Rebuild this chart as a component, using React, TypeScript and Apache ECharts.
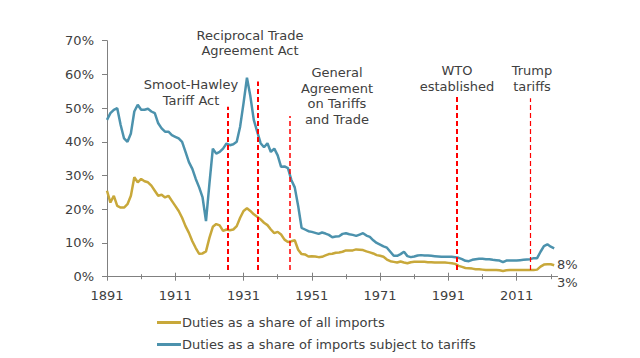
import React, { useEffect, useRef } from "react";
import * as echarts from "echarts";

// ---- data ----
const START_YEAR = 1891;

// Duties as a share of all imports (%), 1891..2022
const allImports = [
  25.5, 22, 24, 21, 20.5, 20.5, 21.5, 24, 29.5, 28,
  29, 28.3, 28, 27, 25.5, 24, 24.3, 23.5, 24, 22.5,
  21, 19.5, 17.5, 15, 13, 10.5, 8.5, 6.8, 6.9, 7.5,
  11.5, 14.8, 15.6, 15.2, 13.6, 14, 13.8, 14, 15, 17.5,
  19.5, 20.3, 19.5, 18.5, 17.8, 17, 16, 15.3, 14, 12.9,
  13.3, 12.5, 11, 10.3, 10.5, 10.8, 8, 6.7, 6.6, 6,
  6.1, 6, 5.8, 5.9, 6.3, 6.7, 6.8, 7.1, 7.2, 7.4,
  7.8, 7.8, 7.8, 8.1, 8, 7.9, 7.5, 7.2, 6.9, 6.4,
  6.2, 5.9, 5.1, 4.6, 4.4, 4.2, 4.5, 4.2, 4, 4.3,
  4.4, 4.4, 4.4, 4.4, 4.3, 4.3, 4.2, 4.2, 4.2, 4.2,
  4.1, 4, 3.8, 3.2, 2.9, 2.6, 2.5, 2.4, 2.2, 2.2,
  2.1, 2, 2, 2, 2, 1.9, 1.7, 1.9, 2, 2,
  2, 2, 2, 2, 2, 2, 2.1, 3, 3.6, 3.7,
  3.7, 3.4,
];

// Duties as a share of imports subject to tariffs (%), 1891..2022
const tariffedImports = [
  46.5, 48.5, 49.5, 50, 45, 41, 40, 42.5, 49, 51,
  49.5, 49.5, 49.8, 49, 48.5, 45.5, 44, 43, 43, 42,
  41.5, 41, 40, 37, 34, 32, 29, 26.5, 23.5, 16.5,
  27.5, 38, 36.5, 37, 38, 39.5, 39, 39.3, 40, 44.5,
  51.5, 59, 53.5, 46.5, 43, 39.6, 38.4, 39.6, 37, 38,
  36, 32.6, 32.7, 32.2, 28.7, 26.5, 21, 14.5, 14, 13.5,
  13.3, 13, 12.7, 13.1, 12.8, 12.4, 11.7, 11.9, 12, 12.7,
  12.9, 12.6, 12.4, 12.1, 12.5, 12.9, 12.2, 11.8, 10.8, 10,
  9.5, 9, 8.6, 7.4, 6.2, 6.2, 6.7, 7.4, 6.1, 5.8,
  6, 6.3, 6.4, 6.3, 6.3, 6.2, 6.1, 6, 5.9, 5.9,
  5.9, 5.9, 5.8, 5.6, 5.2, 4.7, 4.6, 5, 5.2, 5.3,
  5.3, 5.2, 5.2, 5, 4.9, 4.8, 4.3, 4.8, 4.8, 4.8,
  4.8, 4.9, 5, 5.1, 5.2, 5.5, 5.5, 7.4, 9.1, 9.6,
  8.9, 8.4,
];

const seriesNames = [
  "Duties as a share of all imports",
  "Duties as a share of imports subject to tariffs",
];

const yTicks = [0, 10, 20, 30, 40, 50, 60, 70];
const xLabelYears = [1891, 1911, 1931, 1951, 1971, 1991, 2011];
const xMinorYears = [1901, 1921, 1941, 1961, 1981, 2001, 2021];

// policy events: year of the dashed line and the value where it stops
const eventNames = [
  "Smoot-Hawley\nTariff Act",
  "Reciprocal Trade\nAgreement Act",
  "General\nAgreement\non Tariffs\nand Trade",
  "WTO\nestablished",
  "Trump\ntariffs",
];
const eventYears = [1926.3, 1935.1, 1944.6, 1993.6, 2015.1];
const eventTops = [50.4, 57.9, 47.7, 53.9, 52.9];
const eventBottom = 2;

const endLabels = ["8%", "3%"];

// ---- layout / style ----
const GOLD = "#C8A83A";
const BLUE = "#4C92AD";
const AXIS = "#808080";
const TEXT = "#404040";
const FONT = "DejaVu Sans";

const GRID = { left: 107, right: 82.4, top: 40.7, bottom: 81.3 };
const eventLineWidths = [2, 2, 1.5, 2, 1.2];
const eventLabelPos = [
  { x: 191, y: 77 },
  { x: 250, y: 27.5 },
  { x: 337, y: 65 },
  { x: 457, y: 63 },
  { x: 532, y: 63 },
];
const endLabelPos = [
  { x: 557, y: 264.5 },
  { x: 557, y: 282.5 },
];

export default function App() {
  const ref = useRef<HTMLDivElement>(null);

  useEffect(() => {
    if (!ref.current) return;
    const chart = echarts.init(ref.current, undefined, { renderer: "svg" });

    const xMin = START_YEAR;
    const xMax = 2023;
    const grids = [0, 1, 2, 3].map(() => ({ ...GRID, containLabel: false }));

    const baseX = {
      type: "value" as const,
      min: xMin,
      max: xMax,
      splitLine: { show: false },
      axisLabel: { show: false },
      axisLine: { show: false },
    };

    const xAxes = [
      {
        ...baseX,
        gridIndex: 0,
        axisLine: { show: true, lineStyle: { color: AXIS, width: 1 } },
        axisTick: {
          show: true,
          customValues: xLabelYears,
          length: 4,
          lineStyle: { color: AXIS },
        },
        axisLabel: {
          show: true,
          customValues: xLabelYears,
          formatter: (v: number) => String(v),
          margin: 12,
          fontSize: 13,
          fontFamily: FONT,
          color: TEXT,
        },
      },
      {
        ...baseX,
        gridIndex: 1,
        axisTick: {
          show: true,
          inside: true,
          customValues: xLabelYears,
          length: 4,
          lineStyle: { color: AXIS },
        },
      },
      {
        ...baseX,
        gridIndex: 2,
        axisTick: {
          show: true,
          customValues: xMinorYears,
          length: 2.5,
          lineStyle: { color: AXIS },
        },
      },
      {
        ...baseX,
        gridIndex: 3,
        axisTick: {
          show: true,
          inside: true,
          customValues: xMinorYears,
          length: 2.5,
          lineStyle: { color: AXIS },
        },
      },
    ];

    const yAxes = [0, 1, 2, 3].map((g) => ({
      type: "value" as const,
      gridIndex: g,
      min: yTicks[0],
      max: yTicks[yTicks.length - 1],
      interval: 10,
      show: g === 0,
      splitLine: { show: false },
      axisLine: { show: true, lineStyle: { color: AXIS, width: 1 } },
      axisTick: { show: true, length: 5, lineStyle: { color: AXIS } },
      axisLabel: {
        formatter: "{value}%",
        margin: 13,
        fontSize: 13,
        fontFamily: FONT,
        color: TEXT,
      },
    }));

    const toPairs = (arr: number[]) => arr.map((v, i) => [START_YEAR + i, v]);

    const markLineData = eventYears.map((yr, i) => [
      {
        coord: [yr, eventBottom],
        lineStyle: { width: eventLineWidths[i] },
      },
      { coord: [yr, eventTops[i]] },
    ]);

    const option = {
      animation: false,
      grid: grids,
      xAxis: xAxes,
      yAxis: yAxes,
      legend: {
        orient: "vertical",
        left: 152,
        top: 311,
        itemGap: 9,
        itemWidth: 24,
        itemHeight: 3,
        icon: "rect",
        textStyle: { fontSize: 13, fontFamily: FONT, color: TEXT, padding: [0, 0, 0, -4] },
        data: seriesNames,
      },
      series: [
        {
          name: seriesNames[0],
          type: "line",
          xAxisIndex: 0,
          yAxisIndex: 0,
          data: toPairs(allImports),
          symbol: "none",
          lineStyle: { color: GOLD, width: 2.5 },
          itemStyle: { color: GOLD },
          z: 2,
        },
        {
          name: seriesNames[1],
          type: "line",
          xAxisIndex: 0,
          yAxisIndex: 0,
          data: toPairs(tariffedImports),
          symbol: "none",
          lineStyle: { color: BLUE, width: 2.5 },
          itemStyle: { color: BLUE },
          z: 2,
        },
        {
          name: "events",
          type: "line",
          xAxisIndex: 0,
          yAxisIndex: 0,
          data: [],
          z: 5,
          markLine: {
            silent: true,
            symbol: ["none", "none"],
            label: { show: false },
            lineStyle: { color: "#FF0000", type: [5, 3], width: 2 },
            data: markLineData,
          },
        },
      ],
      graphic: [
        ...eventNames.map((name, i) => ({
          type: "text",
          x: eventLabelPos[i].x,
          y: eventLabelPos[i].y,
          silent: true,
          style: {
            text: name,
            fontSize: 13,
            fontFamily: FONT,
            fill: TEXT,
            align: "center",
            verticalAlign: "top",
            lineHeight: 15.5,
          },
        })),
        ...endLabels.map((t, i) => ({
          type: "text",
          x: endLabelPos[i].x,
          y: endLabelPos[i].y,
          silent: true,
          style: {
            text: t,
            fontSize: 13,
            fontFamily: FONT,
            fill: TEXT,
            align: "left",
            verticalAlign: "middle",
          },
        })),
      ],
    };

    chart.setOption(option as any);
    return () => chart.dispose();
  }, []);

  return (
    <div
      ref={ref}
      style={{ position: "fixed", left: 0, top: 0, width: 640, height: 358, background: "#fff" }}
    />
  );
}
